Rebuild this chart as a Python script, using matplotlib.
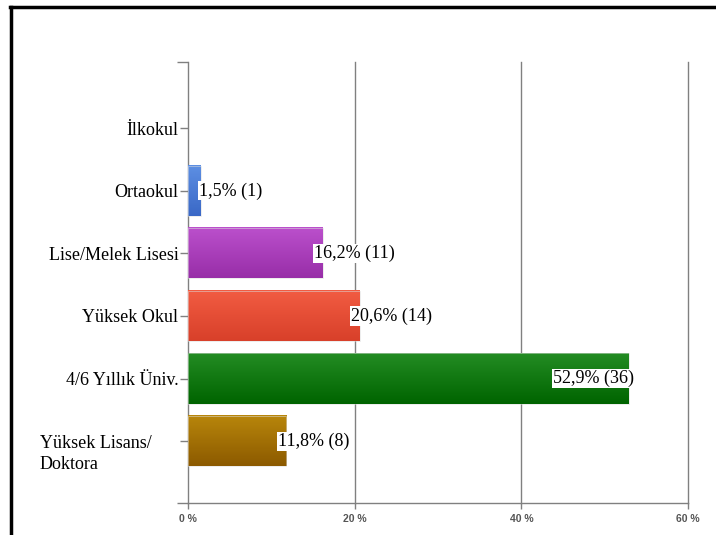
import matplotlib
matplotlib.use("Agg")
import matplotlib.pyplot as plt
import matplotlib.transforms as mtransforms
from matplotlib.lines import Line2D
from matplotlib.colors import LinearSegmentedColormap
import numpy as np

categories = ["İlkokul", "Ortaokul", "Lise/Melek Lisesi", "Yüksek Okul",
              "4/6 Yıllık Üniv.", "Yüksek Lisans/\nDoktora"]
percents = [0.0, 1.5, 16.2, 20.6, 52.9, 11.8]
counts = [0, 1, 11, 14, 36, 8]
top_colors = ["#5d8fe3", "#5d8fe3", "#bb50cc", "#f25c42", "#238c23", "#b8860b"]
bottom_colors = ["#3a68c6", "#3a68c6", "#982ea8", "#d8402a", "#006400", "#8c5a00"]
xticks = [0, 20, 40, 60]
xtick_labels = ["0 %", "20 %", "40 %", "60 %"]

W, H = 716, 535
fig = plt.figure(figsize=(W / 100, H / 100), dpi=100)
ax = fig.add_axes([188 / W, 1 - 503 / H, (688 - 188) / W, (503 - 62) / H])

serif = "Liberation Serif"
fs = 13
grid_c = "#808080"
bar_h = 0.8
n = len(categories)
ypos = np.arange(n)

# gradient-filled bars
for i, v in enumerate(percents):
    if v <= 0:
        continue
    cmap = LinearSegmentedColormap.from_list(f"g{i}", [top_colors[i], bottom_colors[i]])
    grad = np.linspace(0, 1, 64).reshape(-1, 1)
    ax.imshow(grad, cmap=cmap, aspect="auto", interpolation="bilinear",
              extent=[0, v, i + bar_h / 2, i - bar_h / 2], zorder=2)
    ax.add_patch(plt.Rectangle((0, i - bar_h / 2), v, bar_h, fill=False,
                               edgecolor="#dddddd", linewidth=0.6, alpha=0.6, zorder=3))

ax.set_xlim(0, 60)
ax.set_ylim(n - 0.01, -1.06)

# vertical grid
for x in xticks:
    ax.axvline(x, color=grid_c, linewidth=1.0, zorder=1, clip_on=False)

for s in ["top", "right", "left"]:
    ax.spines[s].set_visible(False)
ax.spines["bottom"].set_color(grid_c)
ax.spines["bottom"].set_linewidth(1.0)
ax.spines["bottom"].set_zorder(4)

# x ticks
ax.set_xticks(xticks)
ax.set_xticklabels(xtick_labels, fontfamily="Liberation Sans", fontsize=7.5,
                   color="#555555", fontweight="bold")
ax.tick_params(axis="x", length=4, color=grid_c, width=1.0, pad=4)

# y ticks
ax.set_yticks(ypos)
ax.set_yticklabels([c if "\n" not in c else "" for c in categories],
                   fontfamily=serif, fontsize=fs, color="black")
ax.tick_params(axis="y", length=6, color=grid_c, width=1.0, pad=1)
ax.set_yticks([-1.06, n - 0.01], minor=True)
ax.tick_params(axis="y", which="minor", length=8, color=grid_c, width=1.0)

# multi-line category label, left aligned
for i, c in enumerate(categories):
    if "\n" in c:
        trans = mtransforms.blended_transform_factory(fig.transFigure, ax.transData)
        trans = trans + mtransforms.ScaledTranslation(0, 6 / 100, fig.dpi_scale_trans)
        ax.text(40 / W, i, c, transform=trans, ha="left", va="top",
                fontfamily=serif, fontsize=fs, linespacing=1.3, clip_on=False)

# value labels
for i, (v, k) in enumerate(zip(percents, counts)):
    if v <= 0:
        continue
    txt = f"{v:.1f}".replace(".", ",") + f"% ({k})"
    if v > 45:
        x, ha = v + 0.6, "right"
    else:
        x, ha = max(v - 1.05, 1.3), "left"
    ax.text(x, i, txt, ha=ha, va="center", fontfamily=serif, fontsize=fs,
            color="black", zorder=5,
            bbox=dict(boxstyle="square,pad=0.05", facecolor="white", edgecolor="none"))

# outer frame
fig.add_artist(Line2D([11 / W, 11 / W], [0, 1 - 7 / H], transform=fig.transFigure,
                      color="black", linewidth=2.5))
fig.add_artist(Line2D([10 / W, 1], [1 - 7 / H, 1 - 7 / H], transform=fig.transFigure,
                      color="black", linewidth=2.5))

fig.savefig("out.png", dpi=100)
